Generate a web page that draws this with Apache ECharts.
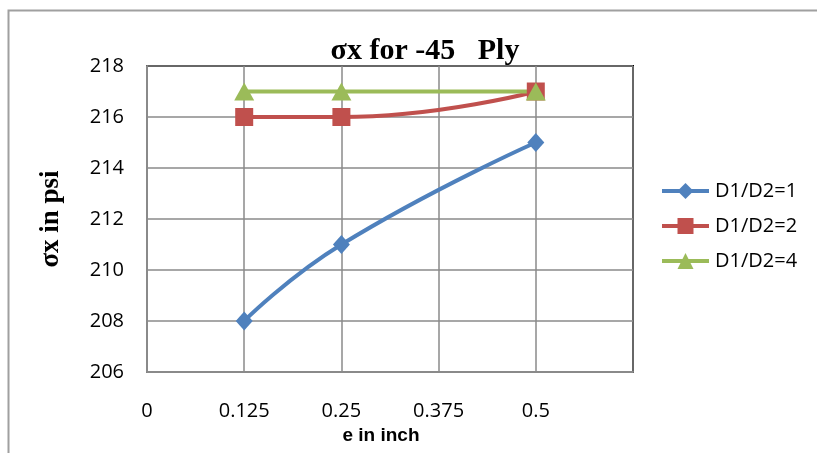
<!DOCTYPE html>
<html>
<head>
<meta charset="utf-8">
<script src="https://cdn.jsdelivr.net/npm/echarts@6/dist/echarts.min.js"></script>
<style>
  html, body { margin: 0; padding: 0; background: #fff; }
  #chart { width: 817px; height: 453px; }
</style>
</head>
<body>
<div id="chart"></div>
<script>
// Eccentricity values (inch) and stress results (psi) for each diameter ratio
const eValues = [0.125, 0.25, 0.5];
const ratio1 = [208, 211, 215];
const ratio2 = [216, 216, 217];
const ratio4 = [217, 217, 217];
const seriesNames = ['D1/D2=1', 'D1/D2=2', 'D1/D2=4'];
const xTicks = [0, 0.125, 0.25, 0.375, 0.5];

const pair = (xs, ys) => xs.map((x, i) => [x, ys[i]]);

const chart = echarts.init(document.getElementById('chart'));
const gridColor = '#8a8a8a';
const tickFont = 'Open Sans, Liberation Sans, sans-serif';

chart.setOption({
  animation: false,
  backgroundColor: '#fff',
  title: {
    text: 'σx for -45   Ply',
    left: 420, top: 31,
    textAlign: 'center',
    textStyle: { fontFamily: 'Liberation Serif, serif', fontWeight: 'bold', fontSize: 30, color: '#000' }
  },
  grid: {
    left: 147, top: 66, width: 486, height: 306,
    show: true, borderColor: '#000', borderWidth: 2, backgroundColor: 'transparent'
  },
  legend: {
    orient: 'vertical',
    left: 655, top: 176,
    itemWidth: 47, itemHeight: 20, itemGap: 15,
    lineStyle: { width: 4 },
    textStyle: { fontFamily: tickFont, fontSize: 20, color: '#000', padding: [0, 0, 0, 1] },
    data: seriesNames
  },
  xAxis: {
    type: 'value',
    min: 0, max: 0.625, interval: 0.125,
    name: 'e in inch',
    nameLocation: 'middle',
    nameGap: 50,
    nameTextStyle: { fontFamily: 'Liberation Sans, sans-serif', fontWeight: 'bold', fontSize: 19, color: '#000', padding: [0, 0, 0, -18] },
    axisLine: { show: true, lineStyle: { color: gridColor, width: 2 } },
    axisTick: { show: false },
    axisLabel: {
      margin: 29,
      fontFamily: tickFont, fontSize: 20, color: '#000',
      formatter: v => (xTicks.indexOf(+v.toFixed(3)) >= 0 ? String(+v.toFixed(3)) : '')
    },
    splitLine: { show: true, lineStyle: { color: gridColor, width: 1.5 } }
  },
  yAxis: {
    type: 'value',
    min: 206, max: 218, interval: 2,
    name: 'σx in psi',
    nameLocation: 'middle',
    nameGap: 82,
    nameTextStyle: { fontFamily: 'Liberation Serif, serif', fontWeight: 'bold', fontSize: 27, color: '#000' },
    axisLine: { show: true, lineStyle: { color: gridColor, width: 2 } },
    axisTick: { show: false },
    axisLabel: { margin: 23, fontFamily: tickFont, fontSize: 20, color: '#000' },
    splitLine: { show: true, lineStyle: { color: gridColor, width: 1.5 } }
  },
  series: [
    {
      name: seriesNames[0], type: 'line', smooth: 0.5,
      data: pair(eValues, ratio1),
      symbol: 'diamond', symbolSize: [17, 19],
      lineStyle: { width: 4, color: '#4F81BD' },
      itemStyle: { color: '#4F81BD' }
    },
    {
      name: seriesNames[1], type: 'line', smooth: 0.5,
      data: pair(eValues, ratio2),
      symbol: 'rect', symbolSize: 18,
      lineStyle: { width: 4, color: '#C0504D' },
      itemStyle: { color: '#C0504D' }
    },
    {
      name: seriesNames[2], type: 'line', smooth: 0.5,
      data: pair(eValues, ratio4),
      symbol: 'triangle', symbolSize: [20, 18],
      lineStyle: { width: 4, color: '#9BBB59' },
      itemStyle: { color: '#9BBB59' }
    }
  ],
  graphic: [
    {
      type: 'polyline',
      shape: { points: [[8.5, 460], [8.5, 10.5], [830, 10.5]] },
      style: { stroke: '#a0a0a0', lineWidth: 2, fill: null },
      silent: true
    }
  ]
});
</script>
</body>
</html>
